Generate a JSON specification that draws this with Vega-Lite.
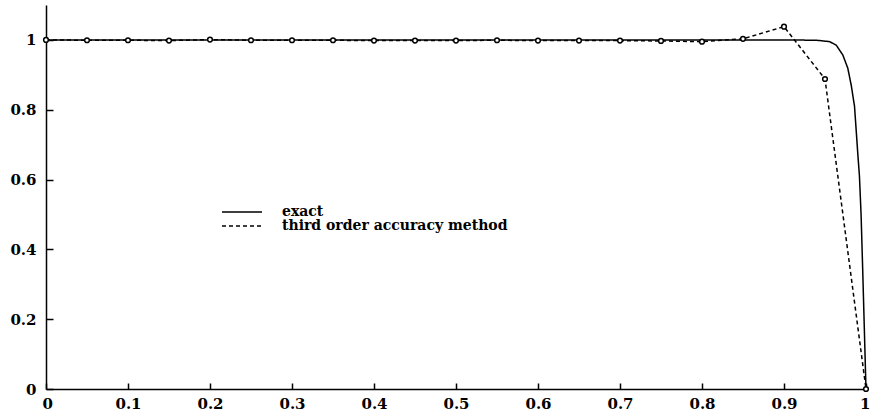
{
  "$schema": "https://vega.github.io/schema/vega-lite/v6.json",
  "autosize": "none",
  "width": 820,
  "height": 384,
  "padding": {"left": 46, "top": 5, "right": 4, "bottom": 24},
  "background": "white",
  "config": {
    "view": {"stroke": null},
    "axis": {
      "domainColor": "black",
      "domainWidth": 1.5,
      "ticks": false,
      "grid": true,
      "gridColor": "black",
      "gridWidth": 1.5,
      "gridOpacity": 1,
      "labelFont": "DejaVu Serif",
      "labelFontWeight": "bold",
      "labelFontSize": 15,
      "labelColor": "black",
      "title": null
    },
    "legend": {
      "labelFont": "DejaVu Serif",
      "labelFontWeight": "bold",
      "labelFontSize": 14,
      "labelColor": "black",
      "labelLimit": 0
    }
  },
  "datasets": {
    "curves": [
      {"series": "exact", "x": 0, "y": 1},
      {"series": "exact", "x": 0.5, "y": 1},
      {"series": "exact", "x": 0.9, "y": 1},
      {"series": "exact", "x": 0.94, "y": 0.999},
      {"series": "exact", "x": 0.9556, "y": 0.995},
      {"series": "exact", "x": 0.9637, "y": 0.985},
      {"series": "exact", "x": 0.9717, "y": 0.957},
      {"series": "exact", "x": 0.9778, "y": 0.919},
      {"series": "exact", "x": 0.982, "y": 0.87},
      {"series": "exact", "x": 0.986, "y": 0.81},
      {"series": "exact", "x": 0.99, "y": 0.674},
      {"series": "exact", "x": 0.992, "y": 0.61},
      {"series": "exact", "x": 0.994, "y": 0.5},
      {"series": "exact", "x": 0.996, "y": 0.34},
      {"series": "exact", "x": 0.998, "y": 0.17},
      {"series": "exact", "x": 0.9994, "y": 0.05},
      {"series": "exact", "x": 1, "y": 0},
      {"series": "third order accuracy method", "x": 0, "y": 1},
      {"series": "third order accuracy method", "x": 0.05, "y": 0.999},
      {"series": "third order accuracy method", "x": 0.1, "y": 0.999},
      {"series": "third order accuracy method", "x": 0.15, "y": 0.998},
      {"series": "third order accuracy method", "x": 0.2, "y": 1.001},
      {"series": "third order accuracy method", "x": 0.25, "y": 0.999},
      {"series": "third order accuracy method", "x": 0.3, "y": 0.999},
      {"series": "third order accuracy method", "x": 0.35, "y": 0.999},
      {"series": "third order accuracy method", "x": 0.4, "y": 0.998},
      {"series": "third order accuracy method", "x": 0.45, "y": 0.998},
      {"series": "third order accuracy method", "x": 0.5, "y": 0.998},
      {"series": "third order accuracy method", "x": 0.55, "y": 0.999},
      {"series": "third order accuracy method", "x": 0.6, "y": 0.998},
      {"series": "third order accuracy method", "x": 0.65, "y": 0.998},
      {"series": "third order accuracy method", "x": 0.7, "y": 0.998},
      {"series": "third order accuracy method", "x": 0.75, "y": 0.997},
      {"series": "third order accuracy method", "x": 0.8, "y": 0.995},
      {"series": "third order accuracy method", "x": 0.85, "y": 1.003},
      {"series": "third order accuracy method", "x": 0.9, "y": 1.038},
      {"series": "third order accuracy method", "x": 0.95, "y": 0.888},
      {"series": "third order accuracy method", "x": 1, "y": 0}
    ]
  },
  "data": {"name": "curves"},
  "encoding": {
    "x": {
      "field": "x",
      "type": "quantitative",
      "scale": {"domain": [0, 1], "nice": false, "zero": false},
      "axis": {"values": [0, 0.1, 0.2, 0.3, 0.4, 0.5, 0.6, 0.7, 0.8, 0.9, 1], "format": "~g", "gridDash": [6, 378], "gridDashOffset": 6, "labelPadding": 7, "labelFlush": true, "labelFlushOffset": 4}
    },
    "y": {
      "field": "y",
      "type": "quantitative",
      "scale": {"domain": [0, 1.1], "nice": false},
      "axis": {"values": [0, 0.2, 0.4, 0.6, 0.8, 1], "format": "~g", "gridDash": [7, 813], "labelPadding": 10, "labelFlush": false}
    }
  },
  "layer": [
    {
      "mark": {"type": "line", "color": "black", "strokeWidth": 1.5},
      "encoding": {
        "strokeDash": {
          "field": "series",
          "type": "nominal",
          "scale": {"domain": ["exact", "third order accuracy method"], "range": [[1, 0], [4, 3]]},
          "legend": {
            "title": null,
            "orient": "none",
            "legendX": 189,
            "legendY": 200,
            "padding": 0,
            "symbolType": "M-8,0H8",
            "symbolSize": 25,
            "symbolStrokeColor": "black",
            "symbolStrokeWidth": 1.5,
            "labelOffset": 33,
            "rowPadding": 0
          }
        }
      }
    },
    {
      "transform": [{"filter": "datum.series === 'third order accuracy method'"}],
      "mark": {"type": "point", "shape": "circle", "filled": true, "fill": "white", "stroke": "black", "strokeWidth": 1.5, "size": 22, "opacity": 1}
    }
  ]
}
